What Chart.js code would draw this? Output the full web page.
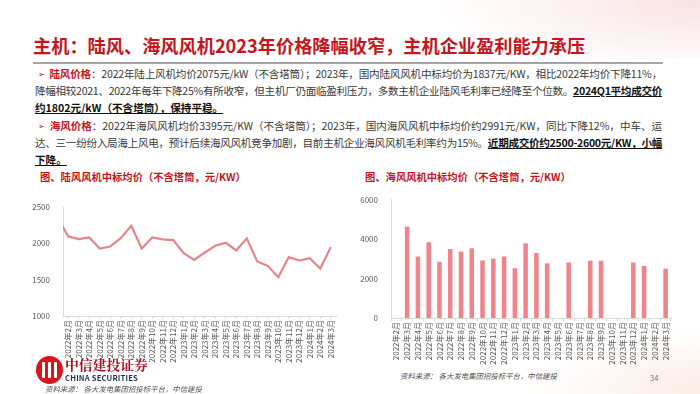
<!DOCTYPE html>
<html>
<head>
<meta charset="utf-8">
<script src="https://cdn.jsdelivr.net/npm/chart.js@4.4.1/dist/chart.umd.min.js"></script>
<style>
html, body { margin: 0; padding: 0; }
body {
  width: 700px; height: 394px; position: relative; overflow: hidden; background: #fff;
  font-family: "Noto Sans CJK SC", "Noto Sans", sans-serif;
}
.swoosh1 { position: absolute; left: 430px; top: -70px; width: 420px; height: 130px; border-radius: 50%;
  background: radial-gradient(ellipse at 65% 55%, rgba(240,190,190,.45), rgba(255,255,255,0) 70%); }
.swoosh2 { position: absolute; left: 520px; top: 330px; width: 360px; height: 120px; border-radius: 50%;
  background: radial-gradient(ellipse at 60% 50%, rgba(245,215,200,.55), rgba(255,255,255,0) 70%); }
.title { position: absolute; left: 33px; top: 33px; font-size: 18.2px; line-height: 24px; font-weight: bold; color: #c4161c; white-space: nowrap; }
.rule { position: absolute; left: 33px; top: 62px; width: 630px; height: 1.5px; background: #a6a6a6; }
.ln { position: absolute; left: 35px; font-size: 10.6px; line-height: 14px; color: #3a3a3a; white-space: nowrap; }
.ln b.k { color: #c4161c; }
.ln .u { font-weight: bold; color: #111; text-decoration: underline; }
.bul { color: #c4161c; font-size: 8px; font-family: "DejaVu Sans", sans-serif; margin-right: 5px; position: relative; top: -1px; }
.ctitle { position: absolute; top: 170px; font-size: 10.3px; line-height: 14px; font-weight: bold; color: #c4161c; white-space: nowrap; }
.src { position: absolute; font-size: 7.4px; font-style: italic; color: #555; white-space: nowrap; }
.logo { position: absolute; left: 36px; top: 356px; width: 27px; height: 28px; border-radius: 50%; background: #d7161e; }
.logo i { position: absolute; top: 6px; width: 3px; height: 16px; background: #fff; border-radius: 1px; }
.brand { position: absolute; left: 65px; top: 356px; font-family: "Noto Serif CJK SC", "Noto Sans CJK SC", serif; font-weight: bold; font-size: 13.8px; line-height: 16px; color: #a8101c; white-space: nowrap; }
.brand2 { position: absolute; left: 65px; top: 373px; font-size: 7.6px; line-height: 9px; font-weight: bold; color: #1f2d5a; white-space: nowrap; letter-spacing: .2px; }
.page { position: absolute; left: 650px; top: 372px; font-size: 7.5px; color: #777; }
#c1 { position: absolute; left: 20px; top: 195px; }
#c2 { position: absolute; left: 355px; top: 190px; }
</style>
</head>
<body>
<div class="swoosh1"></div>
<div class="swoosh2"></div>

<div class="title">主机：陆风、海风风机2023年价格降幅收窄，主机企业盈利能力承压</div>
<div class="rule"></div>

<div class="ln fit" data-w="624" style="top:67px;left:38px"><span class="bul">➢</span><b class="k">陆风价格</b>：2022年陆上风机均价2075元/kW（不含塔筒）；2023年，国内陆风风机中标均价为1837元/KW，相比2022年均价下降11%，</div>
<div class="ln fit" data-w="627" style="top:84px">降幅相较2021、2022年每年下降25%有所收窄，但主机厂仍面临盈利压力，多数主机企业陆风毛利率已经降至个位数。<span class="u">2024Q1平均成交价</span></div>
<div class="ln" style="top:101px"><span class="u">约1802元/kW（不含塔筒），保持平稳。</span></div>
<div class="ln fit" data-w="624" style="top:119px;left:38px"><span class="bul">➢</span><b class="k">海风价格</b>：2022年海风风机均价3395元/KW（不含塔筒）；2023年，国内海风风机中标均价约2991元/KW，同比下降12%，中车、运</div>
<div class="ln fit" data-w="627" style="top:136px">达、三一纷纷入局海上风电，预计后续海风风机竞争加剧，目前主机企业海风风机毛利率约为15%。<span class="u">近期成交价约2500-2600元/KW，小幅</span></div>
<div class="ln" style="top:153px"><span class="u">下降。</span></div>

<div class="ctitle" style="left:40px">图、陆风风机中标均价（不含塔筒，元/KW）</div>
<div class="ctitle" style="left:365px">图、海风风机中标均价（不含塔筒，元/KW）</div>

<canvas id="c1" width="325" height="175"></canvas>
<canvas id="c2" width="335" height="180"></canvas>

<div class="logo"><i style="left:6px"></i><i style="left:12px"></i><i style="left:18px"></i></div>
<div class="brand">中信建投证券</div>
<div class="brand2">CHINA SECURITIES</div>
<div class="src" style="left:45px;top:383px">资料来源： 各大发电集团招投标平台，中信建投</div>
<div class="src" style="left:400px;top:370px">资料来源： 各大发电集团招投标平台，中信建投</div>
<div class="page">34</div>

<script>
// 陆风：折线（首个点在坐标轴外，被裁剪）
const onshoreMonths = ['2022年1月', '2022年2月', '2022年3月', '2022年4月', '2022年5月', '2022年6月', '2022年7月',
  '2022年8月', '2022年9月', '2022年10月', '2022年11月', '2022年12月', '2023年1月', '2023年2月', '2023年3月',
  '2023年4月', '2023年5月', '2023年6月', '2023年7月', '2023年8月', '2023年9月', '2023年10月', '2023年11月',
  '2023年12月', '2024年1月', '2024年2月', '2024年3月'];
const onshorePrice = [2350, 2095, 2058, 2081, 1929, 1957, 2072, 2242, 1929, 2081, 2054, 2045, 1865, 1773,
  1874, 1966, 2008, 1902, 2068, 1750, 1690, 1534, 1810, 1764, 1796, 1653, 1948];
const onshoreTicks = [1000, 1500, 2000, 2500];

// 海风：柱状
const offshoreMonths = ['2022年2月', '2022年3月', '2022年4月', '2022年5月', '2022年6月', '2022年7月', '2022年8月',
  '2022年9月', '2022年10月', '2022年11月', '2022年12月', '2023年1月', '2023年2月', '2023年3月', '2023年4月',
  '2023年5月', '2023年6月', '2023年7月', '2023年8月', '2023年9月', '2023年10月', '2023年11月', '2023年12月',
  '2024年1月', '2024年2月', '2024年3月'];
const offshorePrice = [null, 4630, 3120, 3840, 2850, 3500, 3370, 3540, 2915, 3015, 3120, 2530, 3790, 3300,
  2780, null, 2815, null, 2900, 2900, null, null, 2815, 2645, null, 2495];
const offshoreTicks = [0, 2000, 4000, 6000];

// 每行文字撑满到指定宽度
document.querySelectorAll('.fit').forEach(el => {
  const target = +el.dataset.w;
  const n = el.textContent.length;
  const w = el.getBoundingClientRect().width;
  el.style.letterSpacing = ((target - w) / n) + 'px';
});

const tickFont = { family: '"Noto Sans CJK SC", sans-serif', size: 8 };
const tickColor = '#595959';
const axisColor = '#d9d9d9';

function xAxis(height, min) {
  return {
    type: 'category',
    min: min,
    offset: true,
    border: { color: axisColor },
    grid: { display: true, drawOnChartArea: false, color: axisColor, tickLength: 3 },
    ticks: { color: tickColor, font: tickFont, maxRotation: 90, minRotation: 90, autoSkip: false, padding: 1 },
    afterFit: s => { s.height = height; }
  };
}
function yAxis(width, ticks) {
  return {
    min: ticks[0], max: ticks[ticks.length - 1],
    border: { color: axisColor },
    grid: { display: false },
    afterBuildTicks: s => { s.ticks = ticks.map(v => ({ value: v })); },
    ticks: { color: tickColor, font: tickFont, padding: 5, callback: v => String(v) },
    afterFit: s => { s.width = width; }
  };
}

new Chart(document.getElementById('c1'), {
  type: 'line',
  data: {
    labels: onshoreMonths,
    datasets: [{
      data: onshorePrice,
      borderColor: '#e2868c',
      borderWidth: 2.2,
      pointRadius: 0,
      tension: 0
    }]
  },
  options: {
    responsive: false,
    animation: false,
    layout: { padding: { top: 12, right: 9, left: 0, bottom: 0 } },
    plugins: { legend: { display: false }, tooltip: { enabled: false } },
    scales: {
      x: xAxis(54, '2022年2月'),
      y: yAxis(43, onshoreTicks)
    }
  }
});

new Chart(document.getElementById('c2'), {
  type: 'bar',
  data: {
    labels: offshoreMonths,
    datasets: [{
      data: offshorePrice,
      backgroundColor: '#f0848a',
      barPercentage: 0.42,
      categoryPercentage: 1
    }]
  },
  options: {
    responsive: false,
    animation: false,
    layout: { padding: { top: 9, right: 19, left: 0, bottom: 0 } },
    plugins: { legend: { display: false }, tooltip: { enabled: false } },
    scales: {
      x: xAxis(52, undefined),
      y: yAxis(36, offshoreTicks)
    }
  }
});
</script>
</body>
</html>
